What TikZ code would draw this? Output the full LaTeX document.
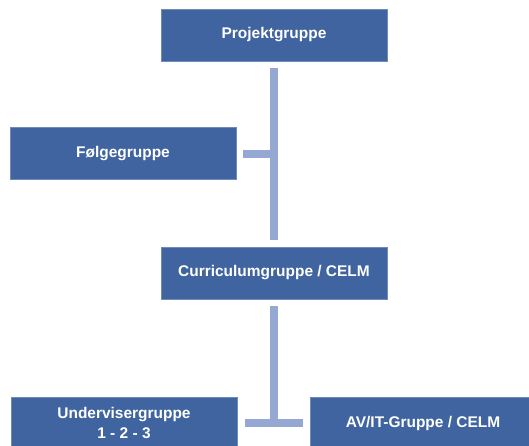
\documentclass[tikz,border=0pt]{standalone}
\usepackage{fontspec}
\setmainfont{Liberation Sans}
\usepackage{tikz}
\usepackage{xcolor}
\usetikzlibrary{positioning}

\definecolor{boxblue}{RGB}{63,100,160}
\definecolor{linkblue}{RGB}{149,168,212}

\tikzset{
    grp/.style={fill=boxblue, draw=boxblue!75!white, line width=0.4pt, text=white,
        minimum width=6.78cm, minimum height=1.56cm, align=center,
        font=\bfseries\fontsize{13.2}{16.5}\selectfont, inner sep=0pt},
    link/.style={draw=linkblue, line width=0.24cm}
}

\begin{document}
\begin{tikzpicture}[x=0.03cm, y=-0.03cm]
            \useasboundingbox (0, 0) rectangle (529, 446);
            \node [grp] (P) at (274, 35) {Projektgruppe};
            \node [grp] (F) at (123, 153.5) {Følgegruppe};
            \node [grp] (C) at (274, 273) {Curriculumgruppe / CELM};
            \node [grp] (U) at (124, 423) {Undervisergruppe\\1 - 2 - 3};
            \node [grp] (A) at (423, 423) {AV/IT-Gruppe / CELM};
            \draw[link, shorten <=0.21cm, shorten >=0.21cm] (P) -- (C);
            \draw[link, shorten <=0.21cm] (F.east) -- (F.east -| P.south);
            \draw[link, shorten <=0.21cm] (C.south) -- (C.south |- U.east);
            \draw[link, shorten <=0.24cm, shorten >=0.21cm] (U.east) -- (A.west);
        \end{tikzpicture}
\end{document}
